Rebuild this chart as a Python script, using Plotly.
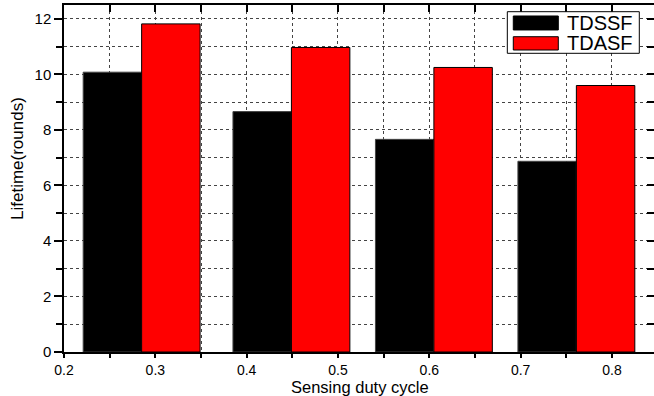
import plotly.graph_objects as go

# Sensing duty cycle groups (boundary between the paired bars)
duty_cycle = [0.285, 0.449, 0.605, 0.761]
tdssf = [10.08, 8.66, 7.66, 6.87]
tdasf = [11.82, 10.97, 10.25, 9.60]
series_names = ["TDSSF", "TDASF"]
series_colors = ["#000000", "#ff0000"]
x_ticks = [0.2, 0.3, 0.4, 0.5, 0.6, 0.7, 0.8]
y_ticks = [0, 2, 4, 6, 8, 10, 12]

BAR_W = 0.064
FONT = "Arial"

fig = go.Figure()
fig.add_trace(go.Bar(x=duty_cycle, y=tdssf, name=series_names[0], width=BAR_W, offset=-BAR_W,
                     marker=dict(color=series_colors[0], line=dict(color="#444444", width=1)),
                     showlegend=False))
fig.add_trace(go.Bar(x=duty_cycle, y=tdasf, name=series_names[1], width=BAR_W, offset=0,
                     marker=dict(color=series_colors[1], line=dict(color="#000000", width=1)),
                     showlegend=False))

x_range = [0.2, 0.846]
y_range = [0, 12.5]
grid = dict(showgrid=True, gridcolor="#444444", griddash="dot", gridwidth=1)
tick_font = dict(family=FONT, size=15, color="black")

fig.update_layout(
    width=654, height=396,
    margin=dict(l=64, r=0, t=5, b=44),
    plot_bgcolor="white", paper_bgcolor="white",
    barmode="overlay",
    font=dict(family=FONT, color="black", size=15),
    xaxis=dict(range=x_range, tickvals=x_ticks, ticktext=[f"{v:.1f}" for v in x_ticks],
               tickfont=dict(family=FONT, size=14, color="black"),
               ticks="outside", ticklen=4, tickwidth=1.5, tickcolor="black",
               showline=True, linecolor="black", linewidth=1.5, showgrid=False, zeroline=False,
               minor=dict(dtick=0.05, tick0=0.2, ticks="outside", ticklen=4, tickcolor="black", **grid)),
    yaxis=dict(range=y_range, tickvals=y_ticks, tickfont=tick_font,
               ticks="outside", ticklen=8, tickwidth=1.5,
               tickcolor="black", showline=True, linecolor="black", linewidth=1.5,
               showgrid=False, zeroline=False,
               minor=dict(dtick=1, tick0=0, ticks="outside", ticklen=6, tickcolor="black", **grid)),
    xaxis2=dict(range=x_range, overlaying="x", side="top", tickvals=x_ticks, showticklabels=False,
                ticks="inside", ticklen=7, tickwidth=1.5, tickcolor="black",
                showline=True, linecolor="black", linewidth=1.5, showgrid=False, zeroline=False,
                minor=dict(dtick=0.05, tick0=0.2, ticks="inside", ticklen=7, tickcolor="black")),
    yaxis2=dict(range=y_range, overlaying="y", side="right", tickvals=y_ticks, showticklabels=False,
                ticks="inside", ticklen=7, tickwidth=1.5, tickcolor="black",
                showline=False, showgrid=False, zeroline=False,
                minor=dict(dtick=1, tick0=0, ticks="inside", ticklen=7, tickcolor="black")),
)
fig.add_trace(go.Scatter(x=[None], y=[None], xaxis="x2", yaxis="y2", showlegend=False, hoverinfo="skip"))

# Axis titles
fig.add_annotation(xref="paper", yref="paper", x=0.5017, y=-0.1, text="Sensing duty cycle",
                   showarrow=False, xanchor="center", yanchor="middle",
                   font=dict(family=FONT, size=16.5, color="black"))
fig.add_annotation(xref="paper", yref="paper", x=-0.0797, y=0.559, text="Lifetime(rounds)",
                   showarrow=False, textangle=-90, xanchor="center", yanchor="middle",
                   font=dict(family=FONT, size=17, color="black"))

# Boxed legend with wide swatches
fig.add_shape(type="rect", xref="paper", yref="paper", x0=0.7514, x1=0.9751, y0=0.8608, y1=0.9807,
              line=dict(color="black", width=1), fillcolor="white", layer="above")
swatch_rows = [(0.928, 0.9683), (0.8703, 0.9086)]
for name, color, (y0, y1) in zip(series_names, series_colors, swatch_rows):
    fig.add_shape(type="rect", xref="paper", yref="paper", x0=0.7615, x1=0.8378, y0=y0, y1=y1,
                  line=dict(color="black", width=1), fillcolor=color, layer="above")
    fig.add_annotation(xref="paper", yref="paper", x=0.849, y=(y0 + y1) / 2, text=name,
                       showarrow=False, xanchor="left", yanchor="middle",
                       font=dict(size=20, family=FONT, color="black"))

fig.write_html("out.html")
